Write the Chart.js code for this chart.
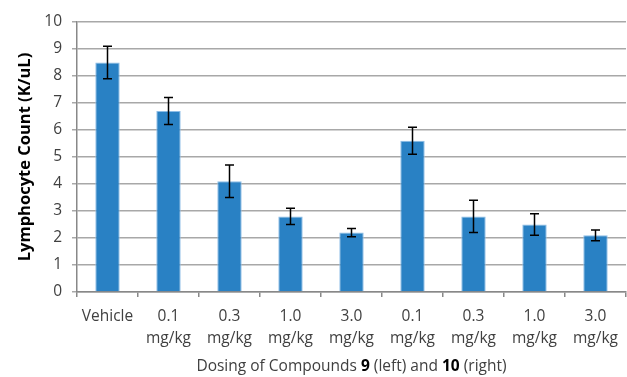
<!DOCTYPE html>
<html>
<head>
<meta charset="utf-8">
<script src="https://cdn.jsdelivr.net/npm/chart.js@4"></script>
<style>
  body { margin: 0; background: #fff; }
  #wrap { width: 627px; height: 377px; }
</style>
</head>
<body>
<div id="wrap"><canvas id="lymph-chart" width="627" height="377"></canvas></div>
<script>
const doseLabels = [
  ["Vehicle"],
  ["0.1", "mg/kg"],
  ["0.3", "mg/kg"],
  ["1.0", "mg/kg"],
  ["3.0", "mg/kg"],
  ["0.1", "mg/kg"],
  ["0.3", "mg/kg"],
  ["1.0", "mg/kg"],
  ["3.0", "mg/kg"]
];
const lymphCounts = [8.5, 6.7, 4.1, 2.8, 2.2, 5.6, 2.8, 2.5, 2.1];
const lymphErrors = [0.6, 0.5, 0.6, 0.3, 0.15, 0.5, 0.6, 0.4, 0.2];
const yTicks = [0, 1, 2, 3, 4, 5, 6, 7, 8, 9, 10];

// x title pieces, some bold
const xTitleParts = [
  { text: "Dosing of Compounds ", bold: false },
  { text: "9", bold: true },
  { text: " (left) and ", bold: false },
  { text: "10", bold: true },
  { text: " (right)", bold: false }
];

const fontFamily = "'Open Sans', sans-serif";
const tickColor = "#404040";

// draws the +/- error bars on top of the bars
const errorBars = {
  id: "errorBars",
  afterDatasetsDraw(chart) {
    const ctx = chart.ctx;
    const meta = chart.getDatasetMeta(0);
    const y = chart.scales.y;
    ctx.save();
    ctx.strokeStyle = "#000";
    ctx.lineWidth = 1.5;
    meta.data.forEach((bar, i) => {
      const top = y.getPixelForValue(lymphCounts[i] + lymphErrors[i]);
      const bottom = y.getPixelForValue(lymphCounts[i] - lymphErrors[i]);
      const x = Math.round(bar.x) + 0.5;
      ctx.beginPath();
      ctx.moveTo(x, top);
      ctx.lineTo(x, bottom);
      ctx.moveTo(x - 4.5, top);
      ctx.lineTo(x + 4.5, top);
      ctx.moveTo(x - 4.5, bottom);
      ctx.lineTo(x + 4.5, bottom);
      ctx.stroke();
    });
    ctx.restore();
  }
};

// x axis title with bold compound numbers
const xTitle = {
  id: "xTitle",
  afterDraw(chart) {
    const ctx = chart.ctx;
    const area = chart.chartArea;
    const normal = "15.5px " + fontFamily;
    const bold = "bold 15.5px " + fontFamily;
    ctx.save();
    let total = 0;
    xTitleParts.forEach(p => {
      ctx.font = p.bold ? bold : normal;
      total += ctx.measureText(p.text).width;
    });
    let x = (area.left + area.right) / 2 - total / 2;
    ctx.textBaseline = "middle";
    ctx.textAlign = "left";
    xTitleParts.forEach(p => {
      ctx.font = p.bold ? bold : normal;
      ctx.fillStyle = p.bold ? "#000" : tickColor;
      ctx.fillText(p.text, x, 367);
      x += ctx.measureText(p.text).width;
    });
    ctx.restore();
  }
};

const chart = new Chart(document.querySelector("#lymph-chart"), {
  type: "bar",
  data: {
    labels: doseLabels,
    datasets: [{
      data: lymphCounts,
      backgroundColor: "#2981c4",
      borderColor: "#8dbde6",
      borderWidth: 1,
      barPercentage: 0.4,
      categoryPercentage: 1
    }]
  },
  options: {
    responsive: false,
    animation: false,
    layout: { padding: { top: 22, right: 0, left: 0, bottom: 0 } },
    plugins: {
      legend: { display: false },
      tooltip: { enabled: false }
    },
    scales: {
      x: {
        grid: {
          drawOnChartArea: false,
          drawTicks: true,
          tickLength: 5,
          color: "#888",
          lineWidth: 1.5
        },
        border: { color: "#888", width: 1.5 },
        ticks: {
          color: tickColor,
          padding: 9,
          maxRotation: 0,
          autoSkip: false,
          font: { family: fontFamily, size: 15.5, lineHeight: 1.4 }
        },
        afterFit(scale) { scale.height = 85; }
      },
      y: {
        min: yTicks[0],
        max: yTicks[yTicks.length - 1],
        afterBuildTicks(scale) { scale.ticks = yTicks.map(v => ({ value: v })); },
        grid: {
          color: "#a8a8a8",
          lineWidth: 1.5,
          tickLength: 5
        },
        border: { color: "#888", width: 1.5 },
        ticks: {
          color: tickColor,
          padding: 10,
          font: { family: fontFamily, size: 15.5 }
        },
        title: {
          display: true,
          text: "Lymphocyte Count (K/uL)",
          color: "#000",
          padding: { top: 15, bottom: 0 },
          font: { family: fontFamily, size: 16.5, weight: "bold" }
        },
        afterFit(scale) { scale.width = 77; }
      }
    }
  },
  plugins: [errorBars, xTitle]
});
</script>
</body>
</html>
